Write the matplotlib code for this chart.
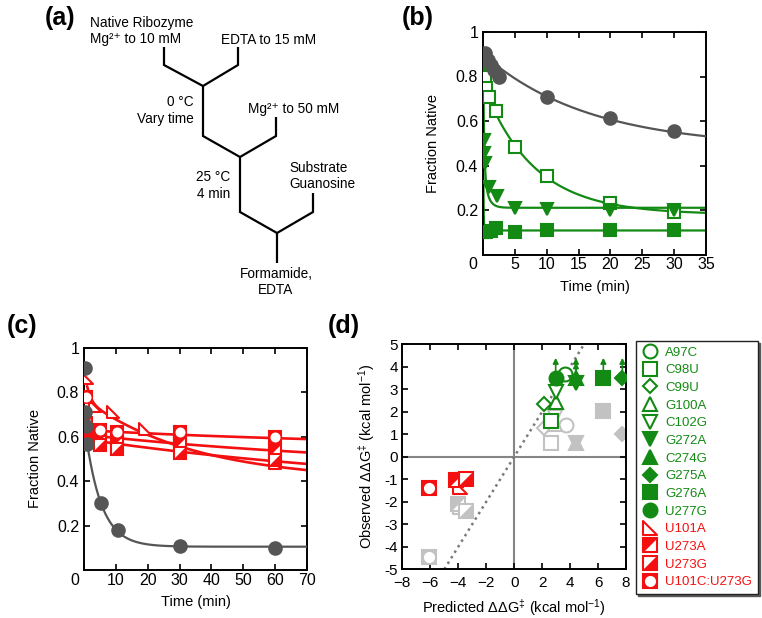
import numpy as np
import matplotlib
matplotlib.use("Agg")
import matplotlib.pyplot as plt
from matplotlib.path import Path
from matplotlib.legend_handler import HandlerTuple

plt.rcParams['font.family'] = ['Liberation Sans', 'DejaVu Sans']
plt.rcParams['mathtext.fontset'] = 'custom'
plt.rcParams['mathtext.rm'] = 'Liberation Sans'
plt.rcParams['mathtext.it'] = 'Liberation Sans:italic'
plt.rcParams['mathtext.bf'] = 'Liberation Sans:bold'

W, H = 762, 618
GREEN = '#138a13'
RED = '#f41010'
DGRAY = '#555555'
LGRAY = '#c2c2c2'

# ---- (b) time courses, 0 °C (wild type + three mutants)
b_wt_t = [0.25, 0.75, 1.25, 1.75, 2.5, 10, 20, 30]
b_wt_y = [0.905, 0.875, 0.85, 0.83, 0.80, 0.71, 0.613, 0.553]
b_c98u_t = [0.1, 0.25, 0.5, 1, 2, 5, 10, 20, 30]
b_c98u_y = [0.88, 0.80, 0.75, 0.71, 0.645, 0.485, 0.355, 0.23, 0.19]
b_g272a_t = [0.1, 0.15, 0.2, 0.3, 1, 2.2, 5, 10, 20, 30]
b_g272a_y = [0.85, 0.515, 0.455, 0.41, 0.305, 0.265, 0.207, 0.203, 0.2, 0.198]
b_g276a_t = [0.05, 0.1, 0.5, 1.3, 2.1, 5, 10, 20, 30]
b_g276a_y = [0.87, 0.103, 0.1, 0.106, 0.118, 0.1, 0.108, 0.108, 0.108]
# fit parameters: plateau, amp1, k1, amp2, k2
b_fit_wt = (0.48, 0.42, 0.06, 0.0, 0.0)
b_fit_c98u = (0.18, 0.12, 2.0, 0.58, 0.125)
b_fit_g272a = (0.21, 0.50, 6.0, 0.18, 1.5)
b_fit_g276a = (0.108, 0.78, 20.0, 0.0, 0.0)

# ---- (c) time courses (wild type + four stabilising mutants)
c_wt_t = [0.4, 0.25, 0.6, 1.0, 5.2, 10.8, 30, 60]
c_wt_y = [0.908, 0.713, 0.65, 0.567, 0.30, 0.18, 0.11, 0.10]
c_u101a_t = [0.8, 3.5, 9, 19, 30, 60]
c_u101a_y = [0.865, 0.74, 0.71, 0.635, 0.58, 0.48]
c_u273a_t = [0.5, 1, 5, 10.5, 30, 60]
c_u273a_y = [0.66, 0.62, 0.585, 0.575, 0.57, 0.54]
c_u273g_t = [0.5, 1, 5, 10.5, 30, 60]
c_u273g_y = [0.62, 0.59, 0.565, 0.545, 0.525, 0.495]
c_dbl_t = [0.5, 5, 10.5, 30, 60]
c_dbl_y = [0.78, 0.632, 0.62, 0.62, 0.598]
c_fit_wt = (0.105, 0.568, 0.2, 0.0, 0.0)
c_fit_u101a = (0.40, 0.15, 0.8, 0.37, 0.0286)
c_fit_u273a = (0.45, 0.16, 0.01, 0.0, 0.0)
c_fit_u273g = (0.35, 0.24, 0.009, 0.0, 0.0)
c_fit_dbl = (0.55, 0.08, 0.01, 0.0, 0.0)

# ---- (d) predicted vs observed
d_names = ['A97C', 'C98U', 'C99U', 'G100A', 'C102G', 'G272A', 'C274G',
           'G275A', 'G276A', 'U277G', 'U101A', 'U273A', 'U273G', 'U101C:U273G']
d_kind = ['o', 's', 'D', '^', 'v', 'v', '^', 'D', 's', 'o', 'tri', 'ul', 'lr', 'ring']
d_filled = [False] * 5 + [True] * 5 + [False] * 4
d_group = ['g'] * 10 + ['r'] * 4
d_lower_bound = [False] * 5 + [True] * 5 + [False] * 4
d_pred = [3.64, 2.63, 2.15, 3.0, 3.0, 4.42, 4.42, 7.74, 6.38, 2.97, -3.9, -4.14, -3.41, -6.09]
d_obs = [3.7, 1.6, 2.35, 2.45, 2.87, 3.3, 3.5, 3.5, 3.5, 3.5, -1.35, -1.05, -0.98, -1.38]
d_alt_pred = [3.68, 2.63, 2.1, 2.95, 2.95, 4.42, 4.42, 7.7, 6.38, np.nan, -3.9, -4.01, -3.41, -6.1]
d_alt_obs = [1.42, 0.6, 1.3, 1.45, 1.75, 0.6, 0.6, 1.0, 2.05, np.nan, -2.25, -2.1, -2.4, -4.45]

CODES = [Path.MOVETO, Path.LINETO, Path.LINETO, Path.CLOSEPOLY]
TRI = Path([(-1, 1), (-1, -1), (1, -1), (-1, 1)], CODES)
HALF = {'ul': Path([(-1, 1), (1, 1), (-1, -1), (-1, 1)], CODES),
        'lr': Path([(1, 1), (1, -1), (-1, -1), (1, 1)], CODES)}


def px_rect(l, t, r, b):
    return [l / W, 1 - b / H, (r - l) / W, (b - t) / H]


def fit_curve(t, p, a1, k1, a2, k2):
    t = np.asarray(t)
    return p + a1 * np.exp(-k1 * t) + a2 * np.exp(-k2 * t)


def draw(ax, x, y, kind, color, filled, ms, z=3):
    face = color if filled else 'white'
    kw = dict(ls='none', zorder=z)
    hs = []
    if kind in ('o', 's', '^', 'v'):
        hs += ax.plot(x, y, marker=kind, ms=ms, mfc=face, mec=color, mew=1.5, **kw)
    elif kind == 'D':
        hs += ax.plot(x, y, marker='D', ms=ms * 0.72, mfc=face, mec=color, mew=1.5, **kw)
    elif kind == 'tri':
        hs += ax.plot(x, y, marker=TRI, ms=ms, mfc='white', mec=color, mew=1.5, **kw)
    elif kind in ('ul', 'lr'):
        hs += ax.plot(x, y, marker='s', ms=ms, mfc='white', mec=color, mew=1.5, **kw)
        hs += ax.plot(x, y, marker=HALF[kind], ms=ms, mfc=color, mec='none', mew=0, **kw)
    elif kind == 'ring':
        hs += ax.plot(x, y, marker='s', ms=ms, mfc=color, mec=color, mew=1.5, **kw)
        hs += ax.plot(x, y, marker='o', ms=ms * 0.8, mfc='white', mec='none', mew=0, **kw)
    return tuple(hs)


def style(ax, xlim, ylim, xticks, yticks, yticklabels, xpad, ypad, size=11.5):
    ax.set_xlim(xlim)
    ax.set_ylim(ylim)
    ax.set_xticks(xticks)
    ax.set_yticks(yticks)
    ax.set_yticklabels(yticklabels)
    ax.tick_params(direction='in', top=True, right=True, length=4, width=1.2,
                   labelsize=size)
    ax.tick_params(axis='x', pad=xpad)
    ax.tick_params(axis='y', pad=ypad)
    for s in ax.spines.values():
        s.set_linewidth(1.4)


fig = plt.figure(figsize=(W / 100, H / 100), dpi=100)

# ---------------- (a) schematic
ax_a = fig.add_axes([0, 1 - 310 / H, 360 / W, 310 / H])
ax_a.set_xlim(0, 360)
ax_a.set_ylim(310, 0)
ax_a.axis('off')
tree = [
    [(164, 47), (164, 65), (203, 86), (238, 65), (238, 47)],
    [(203, 86), (203, 136), (240, 157), (276, 136), (276, 117)],
    [(240, 157), (240, 212), (277, 233), (313, 212), (313, 193)],
    [(277, 233), (277, 263)],
]
for seg in tree:
    xs, ys = zip(*seg)
    ax_a.plot(xs, ys, color='black', lw=1.6, solid_joinstyle='miter', solid_capstyle='butt')
# text anchored on its baseline (pixel rows of the reference)
steps = [
    ('Native Ribozyme', 90, 26.5, 'left'),
    ('Mg²⁺ to 10 mM', 90, 43.5, 'left'),
    ('EDTA to 15 mM', 221, 43.5, 'left'),
    ('0 °C', 194, 106, 'right'),
    ('Vary time', 194, 123, 'right'),
    ('Mg²⁺ to 50 mM', 248, 113.5, 'left'),
    ('25 °C', 230, 181, 'right'),
    ('4 min', 230, 197.5, 'right'),
    ('Substrate', 289, 172.5, 'left'),
    ('Guanosine', 289, 188, 'left'),
    ('Formamide,', 276, 278, 'center'),
    ('EDTA', 276, 294.5, 'center'),
]
for txt, x, y, ha in steps:
    ax_a.text(x, y, txt, ha=ha, va='baseline', fontsize=9.8)

# ---------------- (b)
ax_b = fig.add_axes(px_rect(483, 32, 706, 254.5))
tb = np.linspace(0, 35, 600)
for prm in (b_fit_c98u, b_fit_g272a, b_fit_g276a):
    ax_b.plot(tb, fit_curve(tb, *prm), color=GREEN, lw=1.6, zorder=2)
draw(ax_b, b_c98u_t, b_c98u_y, 's', GREEN, False, 9)
draw(ax_b, b_g272a_t, b_g272a_y, 'v', GREEN, True, 9)
draw(ax_b, b_g276a_t, b_g276a_y, 's', GREEN, True, 9)
ax_b.plot(tb, fit_curve(tb, *b_fit_wt), color=DGRAY, lw=1.6, zorder=4)
draw(ax_b, b_wt_t, b_wt_y, 'o', DGRAY, True, 9, z=5)
style(ax_b, (0, 35), (0, 1), np.arange(0, 36, 5), [0.2, 0.4, 0.6, 0.8, 1.0],
      ['0.2', '0.4', '0.6', '0.8', '1'], 2, 3.5)
ax_b.set_xticklabels([''] + [str(v) for v in range(5, 36, 5)])
ax_b.annotate('0', xy=(0, 0), xycoords='axes fraction', xytext=(-7, -2),
              textcoords='offset points', ha='center', va='top', fontsize=11.5)
ax_b.set_xlabel('Time (min)', fontsize=10.5)
ax_b.set_ylabel('Fraction Native', fontsize=10.5)
ax_b.xaxis.set_label_coords(0.5, -0.113)
ax_b.yaxis.set_label_coords(-0.193, 0.5)

# ---------------- (c)
ax_c = fig.add_axes(px_rect(84, 348, 307, 570))
tc = np.linspace(1, 70, 600)
for prm in (c_fit_u101a, c_fit_u273a, c_fit_u273g, c_fit_dbl):
    ax_c.plot(tc, fit_curve(tc, *prm), color=RED, lw=1.9, zorder=2)
draw(ax_c, c_u101a_t, c_u101a_y, 'tri', RED, False, 9)
draw(ax_c, c_u273a_t, c_u273a_y, 'ul', RED, False, 9)
draw(ax_c, c_u273g_t, c_u273g_y, 'lr', RED, False, 9)
draw(ax_c, c_dbl_t, c_dbl_y, 'ring', RED, False, 9)
ax_c.plot(tc, fit_curve(tc, *c_fit_wt), color=DGRAY, lw=1.6, zorder=4)
draw(ax_c, c_wt_t, c_wt_y, 'o', DGRAY, True, 9, z=5)
style(ax_c, (0, 70), (0, 1), np.arange(0, 71, 10), [0.2, 0.4, 0.6, 0.8, 1.0],
      ['0.2', '0.4', '0.6', '0.8', '1'], 2, 3.5)
ax_c.set_xticklabels([''] + [str(v) for v in range(10, 71, 10)])
ax_c.annotate('0', xy=(0, 0), xycoords='axes fraction', xytext=(-6.5, -2),
              textcoords='offset points', ha='center', va='top', fontsize=11.5)
ax_c.set_xlabel('Time (min)', fontsize=10.5)
ax_c.set_ylabel('Fraction Native', fontsize=10.5)
ax_c.xaxis.set_label_coords(0.5, -0.111)
ax_c.yaxis.set_label_coords(-0.188, 0.5)

# ---------------- (d)
ax_d = fig.add_axes(px_rect(402.3, 344.3, 626, 569.3))
style(ax_d, (-8, 8), (-5, 5), np.arange(-8, 9, 2), np.arange(-5, 6, 1),
      [str(v) for v in range(-5, 6)], 4.5, 3, size=11)
ax_d.axhline(0, color='#858585', lw=1.5, zorder=1)
ax_d.axvline(0, color='#858585', lw=1.5, zorder=1)
diag = np.array(ax_d.get_ylim())
ax_d.plot(diag, diag, color='#7a7a7a', lw=1.8, ls=(0, (1, 1.6)), zorder=1.5)

handles = []
for i, name in enumerate(d_names):
    col = GREEN if d_group[i] == 'g' else RED
    draw(ax_d, [d_alt_pred[i]], [d_alt_obs[i]], d_kind[i], LGRAY, d_filled[i], 10, z=2)
    draw(ax_d, [d_pred[i]], [d_obs[i]], d_kind[i], col, d_filled[i], 10, z=3)
    if d_lower_bound[i]:
        ax_d.annotate('', xy=(d_pred[i], d_obs[i] + 0.9), xytext=(d_pred[i], d_obs[i]),
                      arrowprops=dict(arrowstyle='-|>', color=col, lw=1.2,
                                      mutation_scale=8, shrinkA=0, shrinkB=0), zorder=2.5)
    handles.append(draw(ax_d, [], [], d_kind[i], col, d_filled[i], 10))

leg = ax_d.legend(handles, d_names, loc='upper left', bbox_to_anchor=(636 / W, 1 - 341 / H),
                  bbox_transform=fig.transFigure, numpoints=1, fancybox=False,
                  edgecolor='#222222', framealpha=1, fontsize=9.5, labelspacing=0.41,
                  handlelength=1.3, handletextpad=0.5, borderpad=0.42, borderaxespad=0,
                  handler_map={tuple: HandlerTuple(ndivide=1)},
                  shadow={'ox': 1.5, 'oy': -1.5, 'color': '0.35', 'alpha': 1})
leg.get_frame().set_linewidth(1.0)
for txt, grp in zip(leg.get_texts(), d_group):
    txt.set_color(GREEN if grp == 'g' else RED)

ax_d.set_xlabel(r'Predicted $\Delta\Delta$G$^{\ddagger}$ (kcal mol$^{-1}$)', fontsize=10.5)
ax_d.set_ylabel(r'Observed $\Delta\Delta$G$^{\ddagger}$ (kcal mol$^{-1}$)', fontsize=10.5)
ax_d.xaxis.set_label_coords(0.5, -0.123)
ax_d.yaxis.set_label_coords(-0.113, 0.5)

# panel letters
for lab, x, y in (('(a)', 45, 18), ('(b)', 402, 18), ('(c)', 7, 326), ('(d)', 328, 326)):
    fig.text(x / W, 1 - y / H, lab, fontsize=18, fontweight='bold', ha='left', va='center')

fig.savefig('out.png', dpi=100)
